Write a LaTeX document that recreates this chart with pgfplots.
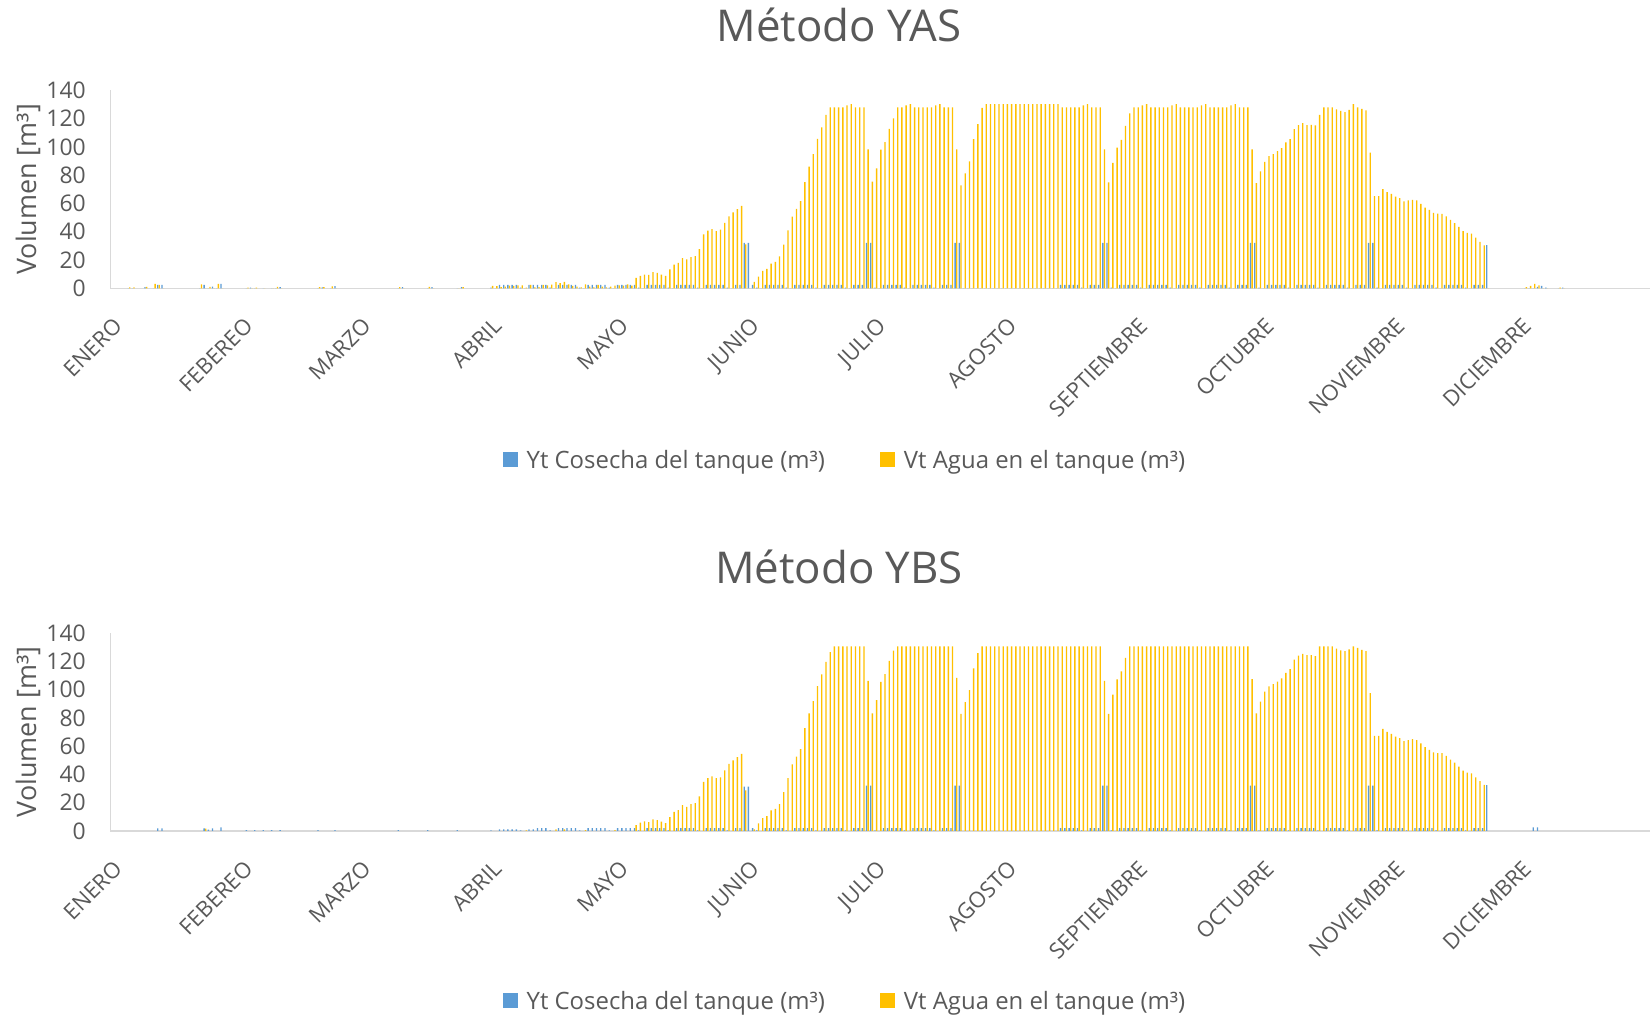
\documentclass[border=0pt]{standalone}
\usepackage{pgfplots}
\pgfplotsset{compat=1.18}
\usepackage{pgfplotstable}
\usepackage{fontspec}
\setmainfont{Open Sans}
\definecolor{cblue}{HTML}{5B9BD5}
\definecolor{cyel}{HTML}{FFC000}
\definecolor{ctext}{HTML}{595959}
\definecolor{caxis}{HTML}{D9D9D9}

\pgfplotstableread{
d b1 v1 b2 v2
5 0 0.7 0 0
6 0 0.7 0 0
9 0.9 1.0 0 0
11 0 3.1 0 0
12 2.4 2.4 1.9 0
13 2.4 0 1.9 0
22 0 2.8 0 0
23 2.4 0 1.9 1.6
24 0 1.0 0.9 0
25 1.2 0 1.9 0
26 0 3.1 0 0
27 3.1 0 2.6 0
33 0 0.5 0.7 0
34 0.4 0 0 0
35 0 0.4 0.7 0
37 0 0 0.7 0
39 0 0 0.7 0
40 0 1.0 0 0
41 0.9 0 0.7 0
50 0 0.9 0.7 0
51 0.7 0.9 0 0
53 0 1.4 0 0
54 1.6 0 0.7 0
69 0 0.8 0.7 0
70 0.8 0 0 0
76 0 1.0 0.7 0
77 0.9 0 0 0
83 0 0 0.7 0
84 0.8 0.9 0 0
91 0.5 1.7 0.5 0
92 0 1.5 0 0
93 2.4 0.8 1.2 0
94 2.4 1.2 1.2 0
95 2.4 1.9 1.2 0
96 2.4 1.7 1.2 0
97 2.4 2.1 1.2 0
98 0.5 2.1 0.5 0
99 0 0.5 0 0.5
100 2.4 2.4 1.2 0
101 2.4 0.7 1.2 0
102 2.4 0.9 2.1 0
103 2.4 2.4 2.1 0
104 2.4 2.1 2.1 0
105 0.5 2.6 0.5 0
106 0 4.3 0 1.2
107 2.4 3.6 2.1 0
108 2.4 4.5 2.1 1.2
109 2.4 2.8 2.1 0
110 2.4 1.7 2.1 0
111 2.4 1.2 2.1 0
112 0.5 0.7 0.5 0
113 0 2.8 0 0.7
114 2.4 1.2 2.1 0
115 2.4 0.7 2.1 0
116 2.4 2.4 2.1 0
117 2.4 1.2 2.1 0
118 2.4 0.7 2.1 0
119 0.5 1.2 0.5 0
120 0 1.9 0 0.7
121 2.4 2.1 2.1 0
122 2.4 1.9 2.1 0
123 2.4 2.8 2.1 0
124 2.4 1.9 2.1 0
125 2.4 7.3 2.1 4.2
126 0.5 8.8 0.5 5.9
127 0 9.7 0 6.8
128 2.4 9.5 2.1 6.3
129 2.4 11.4 2.1 8.2
130 2.4 10.9 2.1 7.7
131 2.4 9.7 2.1 6.6
132 2.4 8.8 2.1 5.6
133 0.5 13.3 0.5 9.8
134 0 16.8 0 13.6
135 2.4 18.0 2.1 14.8
136 2.4 21.3 2.1 18.3
137 2.4 20.4 2.1 17.1
138 2.4 22.0 2.1 19.0
139 2.4 22.7 2.1 19.7
140 0.5 27.7 0.5 24.4
141 0 38.2 0 34.7
142 2.4 40.8 2.1 37.3
143 2.4 41.9 2.1 38.7
144 2.4 40.5 2.1 37.3
145 2.4 41.5 2.1 38.0
146 2.4 46.2 2.1 42.9
147 0.5 50.9 0.5 47.4
148 0 53.6 0 49.9
149 2.4 55.9 2.1 52.3
150 2.4 58.3 2.1 54.6
151 32.1 31.0 31.4 28.8
152 32.1 0 31.4 0
153 2.4 4.5 2.1 1.2
154 0.5 8.3 0.5 5.4
155 0 12.3 0 9.1
156 2.4 13.7 2.1 10.6
157 2.4 17.5 2.1 14.5
158 2.4 18.7 2.1 15.7
159 2.4 22.5 2.1 19.0
160 2.4 30.8 2.1 27.4
161 0.5 41.0 0.5 37.3
162 0 50.7 0 47.1
163 2.4 56.2 2.1 52.5
164 2.4 61.6 2.1 57.9
165 2.4 75.1 2.1 72.7
166 2.4 86.0 2.1 83.2
167 2.4 94.8 2.1 91.9
168 0.5 105.7 0.5 102.5
169 0 113.7 0 110.7
170 2.4 122.7 2.1 119.6
171 2.4 128 2.1 126.4
172 2.4 128 2.1 130.6
173 2.4 128 2.1 130.6
174 2.4 128 2.1 130.6
175 0.5 129.4 0.5 130.6
176 0 130.3 0 130.6
177 2.4 128 2.1 130.6
178 2.4 128 2.1 130.6
179 2.4 128 2.1 130.6
180 32.1 98.3 32 106.2
181 32.1 75.4 32 83.2
182 0.5 84.8 0.5 92.6
183 0 98.1 0 105.5
184 2.4 103.3 2.1 110.9
185 2.4 112.8 2.1 120.3
186 2.4 120.1 2.1 127.6
187 2.4 128 2.1 130.6
188 2.4 128 2.1 130.6
189 0.5 129.4 0.5 130.6
190 0 130.3 0 130.6
191 2.4 128 2.1 130.6
192 2.4 128 2.1 130.6
193 2.4 128 2.1 130.6
194 2.4 128 2.1 130.6
195 2.4 128 2.1 130.6
196 0.5 129.4 0.5 130.6
197 0 130.3 0 130.6
198 2.4 128 2.1 130.6
199 2.4 128 2.1 130.6
200 2.4 128 2.1 130.6
201 32.1 98.3 32 108.3
202 32.1 72.7 32 82.8
203 0 81.3 0 91.2
204 0 89.8 0 99.6
205 0 105.5 0 114.9
206 0 116.1 0 125.7
207 0 127.5 0 130.6
208 0 130.3 0 130.6
209 0 130.3 0 130.6
210 0 130.3 0 130.6
211 0 130.3 0 130.6
212 0 130.3 0 130.6
213 0 130.3 0 130.6
214 0 130.3 0 130.6
215 0 130.3 0 130.6
216 0 130.3 0 130.6
217 0 130.3 0 130.6
218 0 130.3 0 130.6
219 0 130.3 0 130.6
220 0 130.3 0 130.6
221 0 130.3 0 130.6
222 0 130.3 0 130.6
223 0 130.3 0 130.6
224 0 130.3 0 130.6
225 0 130.3 0 130.6
226 2.4 128 2.1 130.6
227 2.4 128 2.1 130.6
228 2.4 128 2.1 130.6
229 2.4 128 2.1 130.6
230 2.4 128 2.1 130.6
231 0.5 129.4 0.5 130.6
232 0 130.3 0 130.6
233 2.4 128 2.1 130.6
234 2.4 128 2.1 130.6
235 2.4 128 2.1 130.6
236 32.1 98.3 32 106.2
237 32.1 74.9 32 82.8
238 0.5 88.6 0.5 96.4
239 0 99.5 0 107.2
240 2.4 105.0 2.1 112.8
241 2.4 114.9 2.1 122.4
242 2.4 123.7 2.1 130.6
243 2.4 128 2.1 130.6
244 2.4 128 2.1 130.6
245 0.5 129.4 0.5 130.6
246 0 130.3 0 130.6
247 2.4 128 2.1 130.6
248 2.4 128 2.1 130.6
249 2.4 128 2.1 130.6
250 2.4 128 2.1 130.6
251 2.4 128 2.1 130.6
252 0.5 129.4 0.5 130.6
253 0 130.3 0 130.6
254 2.4 128 2.1 130.6
255 2.4 128 2.1 130.6
256 2.4 128 2.1 130.6
257 2.4 128 2.1 130.6
258 2.4 128 2.1 130.6
259 0.5 129.4 0.5 130.6
260 0 130.3 0 130.6
261 2.4 128 2.1 130.6
262 2.4 128 2.1 130.6
263 2.4 128 2.1 130.6
264 2.4 128 2.1 130.6
265 2.4 128 2.1 130.6
266 0.5 129.4 0.5 130.6
267 0 130.3 0 130.6
268 2.4 128 2.1 130.6
269 2.4 128 2.1 130.6
270 2.4 128 2.1 130.6
271 32.1 98.3 32 107.4
272 32.1 74.4 32 83.2
273 0.5 82.7 0.5 91.4
274 0 89.3 0 98.5
275 2.4 93.4 2.1 102.2
276 2.4 94.8 2.1 103.9
277 2.4 96.9 2.1 105.7
278 2.4 99.1 2.1 107.9
279 2.4 103.1 2.1 111.8
280 0.5 105.5 0.5 114.4
281 0 112.6 0 121.2
282 2.4 115.4 2.1 124.0
283 2.4 116.8 2.1 125.2
284 2.4 115.4 2.1 124.3
285 2.4 115.6 2.1 124.3
286 2.4 115.2 2.1 123.6
287 0.5 122.7 0.5 130.6
288 0 128 0 130.6
289 2.4 128 2.1 130.6
290 2.4 128 2.1 130.6
291 2.4 126.5 2.1 129.0
292 2.4 125.4 2.1 127.8
293 2.4 124.6 2.1 127.1
294 0.5 126.1 0.5 128.5
295 0 130.3 0 130.6
296 2.4 128 2.1 129.4
297 2.4 126.8 2.1 128.0
298 2.4 125.8 2.1 127.1
299 32.1 96.0 32 97.5
300 32.1 65.2 32 67.3
301 0.5 65.2 0.5 67.3
302 0 70.1 0 72.2
303 2.4 68.0 2.1 70.1
304 2.4 66.8 2.1 68.7
305 2.4 64.9 2.1 66.8
306 2.4 63.7 2.1 65.7
307 2.4 61.4 2.1 63.5
308 0.5 62.1 0.5 64.2
309 0 62.6 0 64.9
310 2.4 62.1 2.1 64.2
311 2.4 59.7 2.1 61.9
312 2.4 57.1 2.1 59.3
313 2.4 55.5 2.1 57.4
314 2.4 53.3 2.1 55.6
315 0.5 52.8 0.5 55.1
316 0 52.6 0 55.1
317 2.4 50.9 2.1 53.2
318 2.4 48.3 2.1 50.4
319 2.4 46.0 2.1 48.3
320 2.4 43.4 2.1 45.5
321 2.4 40.5 2.1 42.7
322 0.5 39.1 0.5 41.3
323 0 38.6 0 40.8
324 2.4 35.8 2.1 38.0
325 2.4 32.9 2.1 35.2
326 2.4 30.3 2.1 32.6
327 30.6 0 32.4 0
336 0 0.9 0 0
337 0 1.7 0 0
338 0 3.1 2.5 0
339 1.0 2.1 2.5 0
340 1.7 0 0 0
341 0.5 0 0 0
344 0 0.4 0 0
345 0.4 0 0 0
}\data

\pgfplotsset{
  panel/.style={
    scale only axis, width=1540bp, height=198bp,
    anchor=south west,
    xmin=0.5, xmax=365.5, ymin=0, ymax=140,
    axis lines*=left,
    x axis line style={draw=caxis, line width=1.4bp},
    y axis line style={draw=caxis, line width=1bp},
    major tick length=0pt,
    ytick={0,20,...,140},
    xtick={1,32,60,91,121,152,182,213,244,274,305,335},
    xticklabels={ENERO,FEBEREO,MARZO,ABRIL,MAYO,JUNIO,JULIO,AGOSTO,SEPTIEMBRE,OCTUBRE,NOVIEMBRE,DICIEMBRE},
    tick label style={font=\fontsize{23}{23}\selectfont, text=ctext},
    xticklabel style={font=\fontsize{22}{22}\selectfont},
    /pgf/number format/assume math mode=true,
    yticklabel style={anchor=east, inner sep=0pt, xshift=-24bp},
    xticklabel style={inner sep=0pt, yshift=-28bp, rotate=45, anchor=north east},
    ylabel={Volumen [m³]},
    ylabel style={font=\fontsize{27}{27}\selectfont, text=ctext, at={(axis description cs:-0.0532,0.5)}, anchor=center},
    title style={font=\fontsize{44}{44}\selectfont, text=ctext, anchor=base},
    legend style={anchor=center, draw=none, fill=none, legend columns=2,
      font=\fontsize{24}{24}\selectfont, text=ctext,
      /tikz/every odd column/.append style={column sep=9bp},
      /tikz/every even column/.append style={column sep=55bp},
      nodes={inner sep=0pt}},
    legend image code/.code={\fill[##1] (0bp,-7.5bp) rectangle (15bp,7.5bp);},
    legend cell align=left,
  },
  bb/.style={ybar, draw=none, fill=cblue, bar width=0.32, bar shift=-0.19},
  by/.style={ybar, draw=none, fill=cyel, bar width=0.32, bar shift=0.19},
}

\begin{document}
\begin{tikzpicture}
\begin{axis}[panel, at={(110bp,732.7bp)},
  title={Método YAS}, title style={at={(axis description cs:0.4734,1.2167)}},
  legend style={at={(axis description cs:0.4766,-0.867)}}]
\addplot[bb] table[x=d, y=b1] {\data};
\addplot[by] table[x=d, y=v1] {\data};
\legend{Yt Cosecha del tanque (m³), Vt Agua en el tanque (m³)}
\end{axis}
\begin{axis}[panel, at={(110bp,190bp)},
  title={Método YBS}, title style={at={(axis description cs:0.4734,1.2222)}},
  legend style={at={(axis description cs:0.4766,-0.857)}}]
\addplot[bb] table[x=d, y=b2] {\data};
\addplot[by] table[x=d, y=v2] {\data};
\legend{Yt Cosecha del tanque (m³), Vt Agua en el tanque (m³)}
\end{axis}
\pgfresetboundingbox
\path (0,0) rectangle (1650bp,1021bp);
\end{tikzpicture}
\end{document}
